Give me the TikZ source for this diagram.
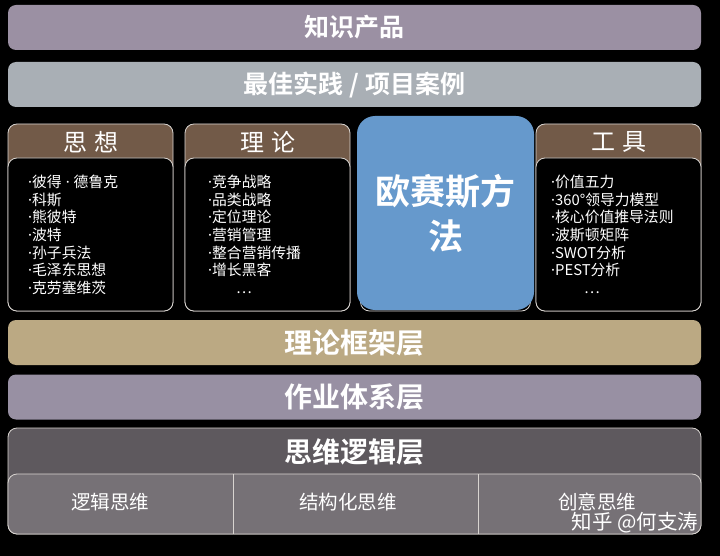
\documentclass[tikz,border=0pt]{standalone}
\usepackage{fontspec}
\setmainfont{Noto Sans CJK SC}
\newfontfamily\cjk{Noto Sans CJK SC}
\newfontfamily\cjkbold{Noto Sans CJK SC Bold}
\newfontfamily\latinfont{Noto Sans}
\newcommand{\bul}{{\latinfont ·}}
\definecolor{cTop}{HTML}{9B90A3}
\definecolor{cGray}{HTML}{A9AFB5}
\definecolor{cBrown}{HTML}{725A48}
\definecolor{cBlue}{HTML}{6699CC}
\definecolor{cTan}{HTML}{BBA983}
\definecolor{cPurple}{HTML}{9890A3}
\definecolor{cDark}{HTML}{5E595E}
\definecolor{cCell}{HTML}{767176}
\definecolor{cLine}{HTML}{D8D4D0}
\begin{document}
\begin{tikzpicture}[x=1pt,y=-1pt,
  bar/.style={rounded corners=8pt, minimum width=693pt, minimum height=45pt, inner sep=0pt,
    text=white, font=\cjkbold\fontsize{25}{28}\selectfont},
  layer/.style={bar, font=\cjkbold\fontsize{28}{30}\selectfont},
  colhead/.style={draw=cLine, line width=0.8pt, fill=cBrown, rounded corners=9pt,
    minimum width=165pt, minimum height=187pt, inner sep=0pt},
  colbody/.style={draw=cLine, line width=0.8pt, fill=black, rounded corners=9pt,
    minimum width=165pt, minimum height=153pt, inner sep=0pt},
  headtxt/.style={text=white, font=\cjk\fontsize{24}{26}\selectfont},
  listtxt/.style={text=white, align=left, inner sep=0pt, anchor=north west,
    font=\cjk\fontsize{14.8}{17.6}\selectfont},
  celltxt/.style={text=white, font=\cjk\fontsize{19.5}{22}\selectfont}
]
\fill[black] (0,0) rectangle (720,556);
\useasboundingbox (0,0) rectangle (720,556);

% top bars
\node[bar, fill=cTop] (kp) at (354.5,27.5) {知识产品};
\node[bar, fill=cGray] (bp) at (354.5,84.5) {最佳实践 / 项目案例};

% column 1
\node[colhead] (c1) at (90.5,217.5) {};
\node[colbody] (b1) at (90.5,234.5) {};
\node[headtxt] (h1) at (91,142) {思\hspace{7pt}想};
\node[listtxt] (l1) at (28,175) {\bul{}彼得\hspace{4pt}\bul{}\hspace{4pt}德鲁克\\\bul{}科斯\\\bul{}熊彼特\\\bul{}波特\\\bul{}孙子兵法\\\bul{}毛泽东思想\\\bul{}克劳塞维茨};

% column 2
\node[colhead] (c2) at (267.5,217.5) {};
\node[colbody] (b2) at (267.5,234.5) {};
\node[headtxt] (h2) at (268,142) {理\hspace{7pt}论};
\node[listtxt] (l2) at (208,175) {\bul{}竞争战略\\\bul{}品类战略\\\bul{}定位理论\\\bul{}营销管理\\\bul{}整合营销传播\\\bul{}增长黑客\\\hspace{28pt}…};

% hidden column 3 + blue box
\node[colbody, minimum width=170pt] (b3) at (445.5,234.5) {};
\node[fill=cBlue, rounded corners=18pt, minimum width=177pt, minimum height=194pt, inner sep=0pt,
  text=white, align=center, font=\cjkbold\fontsize{35}{45}\selectfont] (osm) at (445.5,213) {欧赛斯方\\法};

% column 4
\node[colhead] (c4) at (618.5,217.5) {};
\node[colbody] (b4) at (618.5,234.5) {};
\node[headtxt] (h4) at (619,142) {工\hspace{7pt}具};
\node[listtxt] (l4) at (551,175) {\bul{}价值五力\\\bul{}360°领导力模型\\\bul{}核心价值推导法则\\\bul{}波斯顿矩阵\\\bul{}SWOT分析\\\bul{}PEST分析\\\hspace{33pt}…};

% layers
\node[layer, fill=cTan] (tf) at (354.5,342.5) {理论框架层};
\node[layer, fill=cPurple] (ws) at (354.5,397) {作业体系层};

\node[draw=cLine, line width=0.8pt, fill=cDark, rounded corners=9pt, minimum width=693pt,
  minimum height=106pt, inner sep=0pt] (lg) at (354.5,481) {};
\node[text=white, font=\cjkbold\fontsize{28}{30}\selectfont] (lgt) at (354.5,452) {思维逻辑层};
\draw[draw=cLine, line width=0.8pt, fill=cCell, rounded corners=9pt]
  (8,534) -- (8,474) -- (701,474) -- (701,534) -- cycle;
\draw[cLine, line width=0.8pt] (233,474) -- (233,534) (478,474) -- (478,534);
\node[celltxt] (t1) at (110,502) {逻辑思维};
\node[celltxt] (t2) at (348,502) {结构化思维};
\node[celltxt] (t3) at (597,502) {创意思维};
\node[text=white, anchor=east, font=\cjk\fontsize{20.5}{22}\selectfont] (wm) at (702,523) {知乎 @何支涛};
\end{tikzpicture}
\end{document}
